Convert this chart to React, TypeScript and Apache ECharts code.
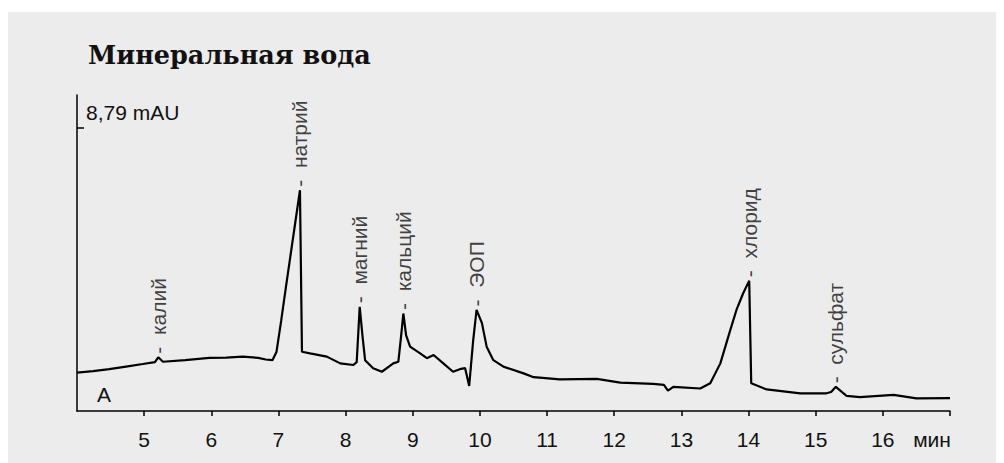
import React, { useEffect, useRef } from "react";
import * as echarts from "echarts";

const TITLE = "Минеральная вода";
const Y_UNIT_LABEL = "8,79 mAU";
const Y_MARK = 8.79;
const PANEL = "A";

// retention time, min
const times = [
  4.0, 4.24, 4.48, 4.73, 4.98, 5.16, 5.21, 5.28, 5.61, 5.97, 6.22, 6.47, 6.7, 6.81, 6.91, 6.97,
  7.04, 7.12, 7.32, 7.35, 7.47, 7.72, 7.92, 8.115, 8.165, 8.21, 8.25, 8.29, 8.41, 8.54,
  8.71, 8.785, 8.82, 8.86, 8.9, 8.96, 9.11, 9.21, 9.31, 9.455, 9.6, 9.7, 9.78, 9.84,
  9.9, 9.95, 10.03, 10.1, 10.2, 10.35, 10.65, 10.8, 11.19, 11.74, 12.09, 12.58,
  12.74, 12.8, 12.88, 13.28, 13.43, 13.58, 13.72, 13.82, 13.92, 14.01, 14.04, 14.27,
  14.77, 15.16, 15.23, 15.3, 15.46, 15.66, 16.16, 16.5, 17.0,
];
// signal, mAU
const signal = [
  1.19, 1.24, 1.3, 1.38, 1.46, 1.52, 1.67, 1.53, 1.58, 1.65, 1.66, 1.69, 1.65, 1.6, 1.58, 1.83,
  2.8, 3.98, 6.86, 1.84, 1.79, 1.69, 1.48, 1.43, 1.52, 3.24, 2.36, 1.58, 1.33, 1.22,
  1.48, 1.53, 2.2, 3.03, 2.36, 2.0, 1.79, 1.64, 1.74, 1.48, 1.22, 1.3, 1.33, 0.78,
  2.2, 3.14, 2.73, 2.0, 1.58, 1.38, 1.17, 1.05, 0.98, 1.0, 0.88, 0.84,
  0.81, 0.63, 0.75, 0.7, 0.86, 1.48, 2.46, 3.14, 3.66, 4.05, 0.86, 0.67,
  0.55, 0.55, 0.59, 0.75, 0.47, 0.43, 0.5, 0.39, 0.4,
];

const peakNames = ["калий", "натрий", "магний", "кальций", "ЭОП", "хлорид", "сульфат"];
const peakTimes = [5.21, 7.32, 8.21, 8.86, 9.95, 14.01, 15.3];
const peakValues = [1.67, 6.86, 3.24, 3.03, 3.14, 4.05, 0.75];

const xTicks = [5, 6, 7, 8, 9, 10, 11, 12, 13, 14, 15, 16, 17];
const X_UNIT = "мин";

const SANS = "'Liberation Sans', Arial, sans-serif";
const FS = 21;

export default function App() {
  const ref = useRef<HTMLDivElement>(null);
  useEffect(() => {
    if (!ref.current) return;
    const chart = echarts.init(ref.current, null, { renderer: "svg" });
    chart.setOption({
      animation: false,
      backgroundColor: "#ececec",
      title: {
        text: TITLE,
        left: 80,
        top: 30,
        padding: 0,
        textStyle: {
          fontFamily: "'DejaVu Serif', serif",
          fontWeight: "bold",
          fontSize: 25.5,
          color: "#111",
        },
      },
      grid: { left: 69, right: 54, top: 83, bottom: 52 },
      xAxis: {
        type: "value",
        min: 4,
        max: 17,
        interval: 1,
        axisLine: { show: true, lineStyle: { color: "#000", width: 1.5 } },
        axisTick: {
          show: true,
          customValues: xTicks,
          length: 5,
          lineStyle: { color: "#000", width: 1.5 },
        },
        axisLabel: {
          customValues: xTicks,
          margin: 18,
          fontSize: FS,
          fontFamily: SANS,
          color: "#111",
          formatter: (v: number) => (v === 17 ? "{u|" + X_UNIT + "}" : String(v)),
          rich: {
            u: { fontSize: FS, fontFamily: SANS, color: "#111", padding: [0, 36, 0, 0] },
          },
        },
        splitLine: { show: false },
      },
      yAxis: {
        type: "value",
        min: 0,
        max: 9.82,
        axisLine: { show: true, lineStyle: { color: "#000", width: 1.5 } },
        axisTick: {
          show: true,
          customValues: [Y_MARK],
          inside: true,
          length: 7,
          lineStyle: { color: "#000", width: 1.5 },
        },
        axisLabel: {
          show: true,
          customValues: [Y_MARK],
          inside: true,
          margin: 9,
          fontSize: FS,
          fontFamily: SANS,
          color: "#111",
          verticalAlign: "bottom",
          padding: [0, 0, 5, 0],
          formatter: () => Y_UNIT_LABEL,
        },
        splitLine: { show: false },
      },
      graphic: [
        {
          type: "text",
          left: 89,
          top: 372,
          style: { text: PANEL, fontSize: FS, fontFamily: SANS, fill: "#111" },
        },
      ],
      series: [
        {
          type: "line",
          data: times.map((t, i) => [t, signal[i]]),
          showSymbol: false,
          symbol: "none",
          lineStyle: { color: "#000", width: 2.2 },
          z: 2,
        },
        {
          type: "scatter",
          data: peakNames.map((n, i) => ({ name: n, value: [peakTimes[i], peakValues[i]] })),
          symbolSize: 1,
          itemStyle: { color: "rgba(0,0,0,0)" },
          label: {
            show: true,
            formatter: "-  {b}",
            position: "top",
            distance: 3,
            rotate: 90,
            align: "left",
            verticalAlign: "middle",
            fontSize: FS,
            fontFamily: SANS,
            color: "#111",
          },
          z: 3,
        },
      ],
    });
    return () => chart.dispose();
  }, []);
  return (
    <div style={{ paddingTop: 4 }}>
      <div ref={ref} style={{ width: 996, height: 451 }} />
    </div>
  );
}
